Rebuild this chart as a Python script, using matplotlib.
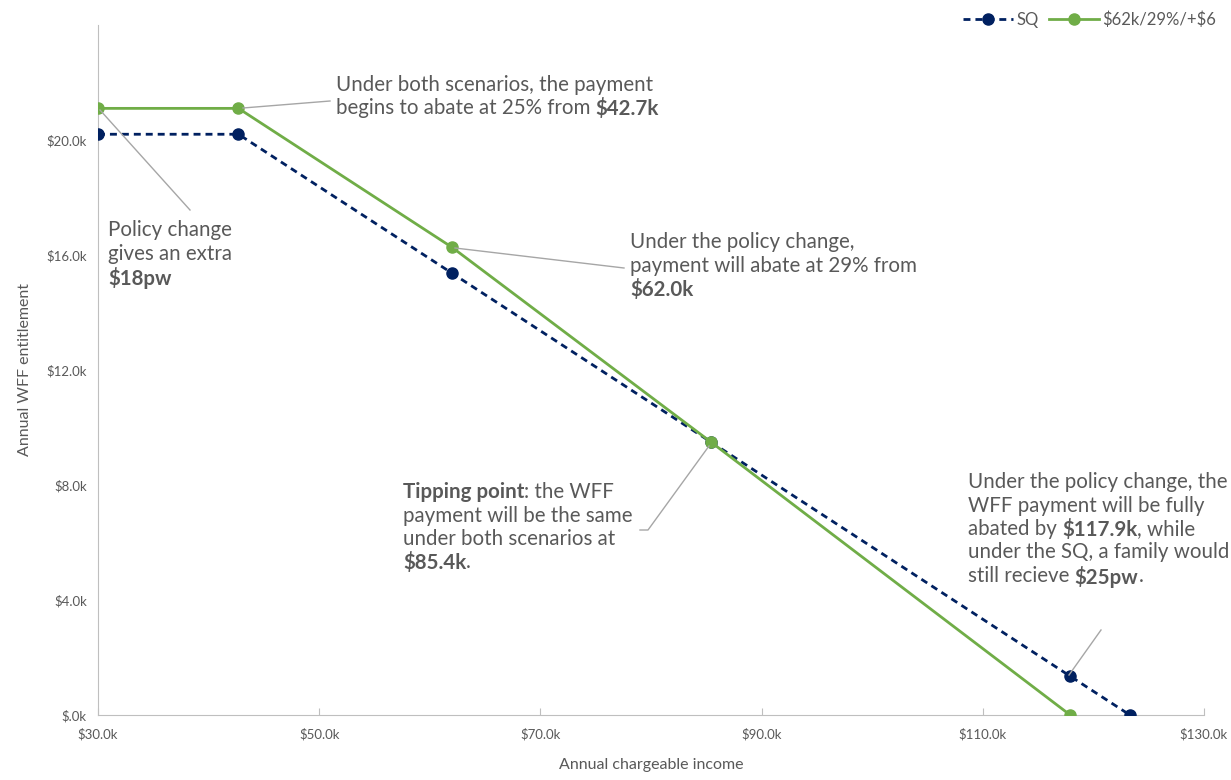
import matplotlib
matplotlib.use('Agg')
import matplotlib.pyplot as plt
from matplotlib.ticker import FuncFormatter

plt.rcParams['font.family'] = ['Lato', 'DejaVu Sans']
plt.rcParams['text.parse_math'] = False

# data (income $k, entitlement $k)
sq_income = [30.0, 42.7, 62.0, 85.4, 117.9, 123.3]
sq_wff = [20.2, 20.2, 15.37, 9.5, 1.35, 0.0]
pc_income = [30.0, 42.7, 62.0, 85.4, 117.9]
pc_wff = [21.1, 21.1, 16.27, 9.5, 0.0]
x_ticks = [30, 50, 70, 90, 110, 130]
y_ticks = [0, 4, 8, 12, 16, 20]

navy = '#002060'
green = '#70AD47'
grey_txt = '#595959'
W, H = 1231, 780

fig = plt.figure(figsize=(12.31, 7.8), dpi=100)
ax = fig.add_axes([98 / W, 1 - 715 / H, (1204 - 98) / W, (715 - 25) / H])

ax.plot(sq_income, sq_wff, color=navy, ls=(0, (2.5, 1.8)), lw=2, marker='o', ms=8, label='SQ', zorder=3)
ax.plot(pc_income, pc_wff, color=green, lw=2, marker='o', ms=8, label='$62k/29%/+$6', zorder=3)

ax.set_xlim(30, 130)
ax.set_ylim(0, 24)
ax.set_xticks(x_ticks)
ax.set_yticks(y_ticks)
ax.xaxis.set_major_formatter(FuncFormatter(lambda v, p: '$%.1fk' % v))
ax.yaxis.set_major_formatter(FuncFormatter(lambda v, p: '$%.1fk' % v if v else '$.0k'))
ax.tick_params(axis='x', direction='in', length=5, color='#bfbfbf', labelsize=9.5, labelcolor=grey_txt, pad=9)
ax.tick_params(axis='y', length=0, labelsize=9.5, labelcolor=grey_txt, pad=8)
for s in ['top', 'right']:
    ax.spines[s].set_visible(False)
for s in ['left', 'bottom']:
    ax.spines[s].set_color('#bfbfbf')
ax.set_xlabel('Annual chargeable income', fontsize=11.5, color=grey_txt, labelpad=13)
ax.set_ylabel('Annual WFF entitlement', fontsize=11.5, color=grey_txt, labelpad=10)

fig.legend(loc='upper right', ncol=2, bbox_to_anchor=(1.0, 1.005), frameon=False,
           fontsize=12, labelcolor=grey_txt, handlelength=3, columnspacing=0.6, handletextpad=0.2)

renderer = fig.canvas.get_renderer()
FS = 14.8


def rich_text(x, y, lines, dy=23.5):
    # x, y in pixels from top-left; lines = list of [(text, bold), ...]
    for i, parts in enumerate(lines):
        cx = x
        for s, b in parts:
            t = fig.text(cx / W, 1 - (y + i * dy) / H, s, fontsize=FS, color=grey_txt,
                         fontweight='bold' if b else 'normal', va='top', ha='left')
            cx += t.get_window_extent(renderer).width


def leader(pts):
    xs = [p[0] / W for p in pts]
    ys = [1 - p[1] / H for p in pts]
    fig.add_artist(plt.Line2D(xs, ys, color='#a6a6a6', lw=1))


leader([(100, 110), (190, 210)])
rich_text(108, 220, [[('Policy change', False)], [('gives an extra', False)], [('$18pw', True)]])

leader([(243, 108), (330, 101)])
rich_text(336, 75, [[('Under both scenarios, the payment', False)],
                    [('begins to abate at 25% from ', False), ('$42.7k', True)]])

leader([(455, 248), (624, 268)])
rich_text(630, 232, [[('Under the policy change,', False)],
                     [('payment will abate at 29% from', False)],
                     [('$62.0k', True)]])

leader([(709, 446), (648, 530), (640, 530)])
rich_text(403, 482, [[('Tipping point', True), (': the WFF', False)],
                     [('payment will be the same', False)],
                     [('under both scenarios at', False)],
                     [('$85.4k', True), ('.', False)]])

leader([(1069, 675), (1101, 630)])
rich_text(968, 472, [[('Under the policy change, the', False)],
                     [('WFF payment will be fully', False)],
                     [('abated by ', False), ('$117.9k', True), (', while', False)],
                     [('under the SQ, a family would', False)],
                     [('still recieve ', False), ('$25pw', True), ('.', False)]])

fig.savefig('out.png', dpi=100)
